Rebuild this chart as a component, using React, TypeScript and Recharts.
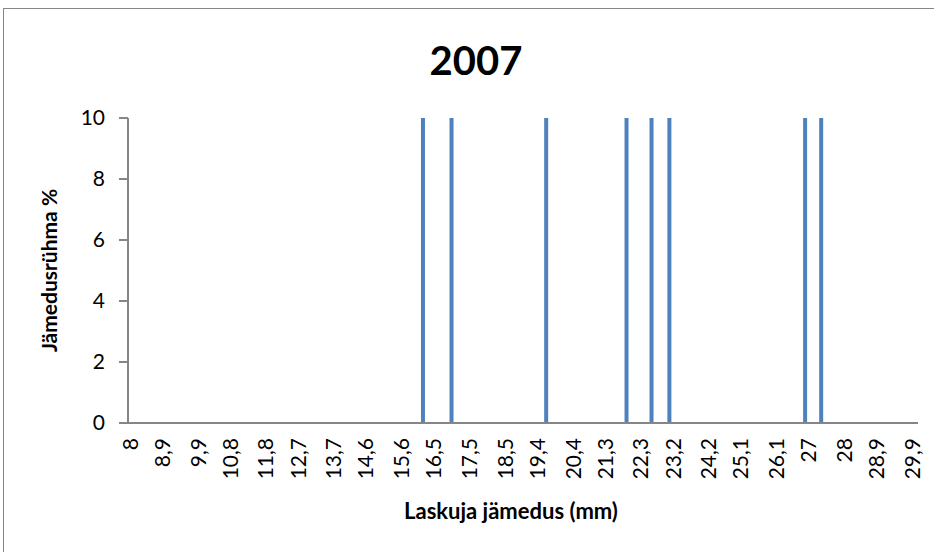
import React from 'react';
import { BarChart, Bar, XAxis, YAxis } from 'recharts';

// diameters (mm) that have a non-zero share, and their share in %
const diameters = [16.2, 17.0, 19.65, 21.9, 22.6, 23.1, 26.9, 27.35];
const shares = [10, 10, 10, 10, 10, 10, 10, 10];

// category labels shown on the axis in the original
const xTicks = [8, 8.9, 9.9, 10.8, 11.8, 12.7, 13.7, 14.6, 15.6, 16.5, 17.5, 18.5, 19.4, 20.4, 21.3, 22.3, 23.2, 24.2, 25.1, 26.1, 27, 28, 28.9, 29.9];
const yTicks = [0, 2, 4, 6, 8, 10];

const FONT = 'Lato, "Liberation Sans", sans-serif';
const AXIS_GRAY = '#868686';

const data = diameters.map((d, i) => ({ d, share: shares[i] }));

const fmt = (v: number) => String(v).replace('.', ',');

function RotatedTick(props: any) {
  const { x, y, payload } = props;
  return (
    <g transform={`translate(${x},${y})`}>
      <text x={0} y={0} dy="0.36em" textAnchor="end" transform="rotate(-90)" fontFamily={FONT} fontSize={21} fill="#000">
        {fmt(payload.value)}
      </text>
    </g>
  );
}

export default function App() {
  return (
    <div style={{ position: 'fixed', left: 0, top: 0, width: 934, height: 552, overflow: 'hidden', background: '#fff' }}>
      <div style={{ position: 'absolute', left: 3, top: 8, width: 960, height: 600, border: `1px solid ${AXIS_GRAY}` }} />
      <div style={{ position: 'absolute', left: 0, width: 952, top: 36, textAlign: 'center', fontFamily: FONT, fontWeight: 700, fontSize: 40, lineHeight: '48px', color: '#000' }}>
        2007
      </div>
      <div style={{ position: 'absolute', left: 0, top: 0 }}>
        <BarChart width={934} height={552} data={data} margin={{ top: 118, right: 16, bottom: 0, left: 0 }}>
          <XAxis
            dataKey="d"
            type="number"
            domain={[7.94, 30.06]}
            ticks={xTicks}
            interval={0}
            allowDataOverflow
            height={129}
            tickLine={false}
            tickSize={0}
            tickMargin={15}
            axisLine={{ stroke: AXIS_GRAY, strokeWidth: 2 }}
            tick={<RotatedTick />}
            label={{ value: 'Laskuja jämedus (mm)', position: 'insideBottom', offset: 33, dx: -12, style: { fontFamily: FONT, fontWeight: 700, fontSize: 22, fill: '#000' } }}
          />
          <YAxis
            type="number"
            domain={[0, 10]}
            ticks={yTicks}
            interval={0}
            width={128}
            tickSize={9}
            tickMargin={14}
            axisLine={{ stroke: AXIS_GRAY, strokeWidth: 2 }}
            tickLine={{ stroke: AXIS_GRAY, strokeWidth: 2 }}
            tick={{ fontFamily: FONT, fontSize: 21, fill: '#000' }}
            label={{ value: 'Jämedusrühma %', angle: -90, position: 'insideLeft', offset: 50, style: { textAnchor: 'middle', fontFamily: FONT, fontWeight: 700, fontSize: 21, fill: '#000' } }}
          />
          <Bar dataKey="share" fill="#4F81BD" barSize={4} isAnimationActive={false} />
        </BarChart>
      </div>
    </div>
  );
}
